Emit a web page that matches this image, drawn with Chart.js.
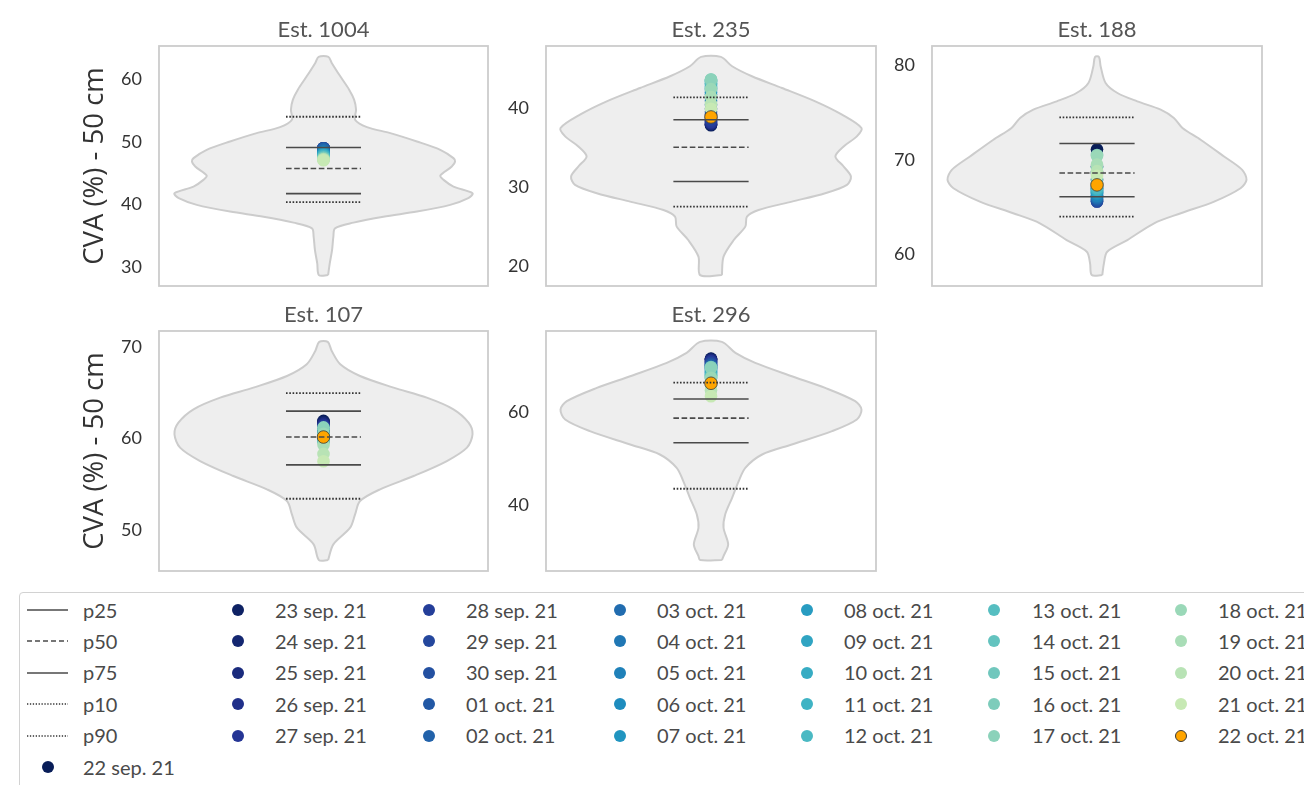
<!DOCTYPE html>
<html><head><meta charset="utf-8">
<script src="https://cdn.jsdelivr.net/npm/chart.js@4.4.0/dist/chart.umd.min.js"></script>
<style>
html,body{margin:0;padding:0;background:#fff;width:1304px;height:785px;overflow:hidden;position:relative;font-family:Lato, sans-serif;}
canvas{position:absolute;}
#legendBox{position:absolute;left:19px;top:592px;width:1320px;height:240px;border:1.3px solid #d2d2d2;border-radius:4px;box-sizing:border-box;}
.lt{position:absolute;font-size:20px;color:#4a4a4a;line-height:24px;height:24px;white-space:nowrap;}
.ld{position:absolute;border-radius:50%;box-sizing:border-box;}
.ls{position:absolute;}
</style></head><body>
<div id="legendBox"></div>
<script>
// ---------------- data ----------------
const STATIONS = ['Est. 1004', 'Est. 235', 'Est. 188', 'Est. 107', 'Est. 296'];
const DATES = ['22 sep. 21','23 sep. 21','24 sep. 21','25 sep. 21','26 sep. 21','27 sep. 21','28 sep. 21','29 sep. 21','30 sep. 21',
  '01 oct. 21','02 oct. 21','03 oct. 21','04 oct. 21','05 oct. 21','06 oct. 21','07 oct. 21','08 oct. 21','09 oct. 21','10 oct. 21',
  '11 oct. 21','12 oct. 21','13 oct. 21','14 oct. 21','15 oct. 21','16 oct. 21','17 oct. 21','18 oct. 21','19 oct. 21','20 oct. 21',
  '21 oct. 21','22 oct. 21'];
const PERCENTILE_LABELS = ['p25', 'p50', 'p75', 'p10', 'p90'];
const Y_TITLE = 'CVA (%) - 50 cm';

// violin outline: value (bottom -> top) and half width
const VIOLIN_Y_1004 = [28.70,30.57,32.71,34.85,36.19,37.10,38.06,38.87,39.94,41.01,41.81,42.88,43.95,44.64,46.09,46.89,47.43,48.76,50.10,51.44,52.40,53.58,55.18,56.79,58.39,60.53,62.68,63.64];
const VIOLIN_W_1004 = [0.014,0.019,0.026,0.030,0.035,0.091,0.182,0.284,0.385,0.440,0.453,0.395,0.365,0.355,0.390,0.400,0.395,0.355,0.284,0.203,0.132,0.096,0.099,0.093,0.078,0.051,0.025,0.015];
const VIOLIN_Y_235 = [18.85,21.19,23.31,25.01,26.28,27.13,28.19,29.26,30.32,31.38,32.65,33.93,35.20,36.48,37.54,39.24,40.93,42.63,44.12,45.39,46.58];
const VIOLIN_W_235 = [0.033,0.038,0.069,0.104,0.109,0.144,0.245,0.346,0.412,0.424,0.402,0.377,0.402,0.442,0.456,0.397,0.316,0.215,0.124,0.064,0.030];
const VIOLIN_Y_188 = [57.83,59.07,60.30,61.53,63.30,64.36,65.59,67.00,67.88,68.94,70.35,72.12,73.35,74.41,75.29,76.17,77.05,78.11,79.88,80.86];
const VIOLIN_W_188 = [0.016,0.021,0.031,0.092,0.173,0.254,0.355,0.435,0.453,0.440,0.385,0.314,0.259,0.233,0.193,0.122,0.062,0.026,0.011,0.006];
const VIOLIN_Y_107 = [46.70,48.42,50.24,51.69,53.15,54.43,55.88,57.52,58.98,60.44,61.71,63.17,64.44,65.54,66.81,68.09,69.54,70.53];
const VIOLIN_W_107 = [0.014,0.030,0.081,0.096,0.111,0.172,0.274,0.375,0.436,0.453,0.441,0.395,0.314,0.213,0.111,0.051,0.025,0.013];
const VIOLIN_Y_296 = [28.24,29.10,31.61,35.20,38.06,41.65,45.23,48.10,50.97,53.12,55.99,58.49,60.65,62.44,65.30,67.81,70.68,72.83,75.20];
const VIOLIN_W_296 = [0.033,0.038,0.052,0.038,0.043,0.064,0.084,0.104,0.155,0.245,0.367,0.442,0.456,0.437,0.346,0.245,0.134,0.074,0.033];

// percentiles per station (1004, 235, 188, 107, 296)
const P10 = [40.40, 27.55, 64.00, 53.40, 43.60];
const P25 = [41.75, 30.75, 66.10, 57.10, 53.50];
const P50 = [45.76, 35.10, 68.60, 60.14, 58.80];
const P75 = [49.13, 38.60, 71.72, 62.97, 62.90];
const P90 = [54.06, 41.44, 74.48, 64.94, 66.45];

// daily values 22 sep -> 22 oct
const DAILY_1004 = [48.9,48.9,49.0,49.0,49.0,49.0,49.0,49.0,49.0,49.0,48.9,48.7,48.5,48.4,48.3,48.2,48.1,48.0,47.9,47.8,47.7,47.6,47.5,47.5,47.4,47.3,47.3,47.2,47.2,47.1,null];
const DAILY_235 = [37.9,38.0,38.0,38.1,38.2,38.3,38.5,38.8,39.2,39.6,40.0,40.5,41.0,41.4,41.8,42.1,42.4,42.6,42.8,43.0,43.2,43.4,43.5,43.6,43.7,43.7,42.5,41.5,40.6,40.0,38.95];
const DAILY_188 = [71.1,69.3,68.6,67.9,67.0,66.2,65.6,65.6,65.7,65.8,65.9,66.0,66.1,66.2,66.4,66.5,66.6,66.7,66.8,66.9,67.0,67.2,67.5,68.0,69.2,70.5,70.4,69.5,68.8,68.3,67.35];
const DAILY_107 = [61.9,61.8,61.7,61.6,61.5,61.4,61.3,61.2,61.1,61.0,60.9,60.8,60.7,60.6,60.5,60.4,60.3,60.2,60.1,60.0,59.9,59.8,59.7,59.6,61.0,61.2,60.5,59.3,58.3,57.5,60.14];
const DAILY_296 = [71.6,71.5,71.4,71.3,71.1,71.0,70.8,70.6,70.4,70.2,70.0,69.8,69.6,69.4,69.2,69.0,68.8,68.6,68.4,68.2,68.0,67.8,67.6,67.4,69.8,69.6,67.5,66.0,64.8,63.5,66.3];

const Y_TICKS_1004 = [30, 40, 50, 60];
const Y_TICKS_235 = [20, 30, 40];
const Y_TICKS_188 = [60, 70, 80];
const Y_TICKS_107 = [50, 60, 70];
const Y_TICKS_296 = [40, 60];

const VIOLIN_Y = [VIOLIN_Y_1004, VIOLIN_Y_235, VIOLIN_Y_188, VIOLIN_Y_107, VIOLIN_Y_296];
const VIOLIN_W = [VIOLIN_W_1004, VIOLIN_W_235, VIOLIN_W_188, VIOLIN_W_107, VIOLIN_W_296];
const DAILY = [DAILY_1004, DAILY_235, DAILY_188, DAILY_107, DAILY_296];
const Y_TICKS = [Y_TICKS_1004, Y_TICKS_235, Y_TICKS_188, Y_TICKS_107, Y_TICKS_296];

// ---------------- style / layout ----------------
const PANELS = [
  {l:159, t:46, r:488, b:286}, {l:546, t:46, r:876, b:286}, {l:932, t:46, r:1262, b:286},
  {l:159, t:331, r:488, b:571}, {l:546, t:331, r:876, b:571}
];
const AXW = 90, TH = 36, PAD = 3;
const LINE_HALF = 0.114;
const LINE_COLOR = '#4a4a4a';
const DOT_COLOR = '#333333';
const DASH = {p25: [], p50: [5.6, 2.6], p75: [], p10: [1.6, 1.7], p90: [1.6, 1.7]};
const CMAP_STOPS = ['#081d58','#253494','#225ea8','#1d91c0','#41b6c4','#7fcdbb','#c7e9b4'];
function hex(c){return [parseInt(c.slice(1,3),16),parseInt(c.slice(3,5),16),parseInt(c.slice(5,7),16)];}
function cmap(s){ // s in [0,1]
  const n = CMAP_STOPS.length - 1, f = s * n, i = Math.min(Math.floor(f), n - 1), u = f - i;
  const a = hex(CMAP_STOPS[i]), b = hex(CMAP_STOPS[i+1]);
  return 'rgb(' + a.map((v,k)=>Math.round(v + (b[k]-v)*u)).join(',') + ')';
}
const N_GRAD = DATES.length - 1;
const DATE_COLORS = DATES.map((d,k) => k < N_GRAD ? cmap(k/(N_GRAD-1)) : '#ffa500');
const DATE_EDGE = DATES.map((d,k) => k < N_GRAD ? 'rgba(0,0,0,0)' : '#3a3a3a');
const DATE_EDGE_W = DATES.map((d,k) => k < N_GRAD ? 0 : 0.8);

Chart.defaults.font.family = 'Lato';
Chart.defaults.devicePixelRatio = 1;

const frame = {
  id: 'frame',
  beforeDatasetsDraw(chart) {
    const {ctx, chartArea: a} = chart;
    ctx.save();
    ctx.strokeStyle = '#cccccc';
    ctx.lineWidth = 1.8;
    ctx.strokeRect(a.left, a.top, a.right - a.left, a.bottom - a.top);
    ctx.restore();
  }
};

function makePanel(i) {
  const p = PANELS[i];
  const w = AXW + (p.r - p.l) + PAD, h = TH + (p.b - p.t) + PAD;
  const cv = document.createElement('canvas');
  cv.width = w; cv.height = h;
  cv.style.width = w + 'px'; cv.style.height = h + 'px';
  cv.style.left = (p.l - AXW) + 'px'; cv.style.top = (p.t - TH) + 'px';
  document.body.appendChild(cv);

  const vy = VIOLIN_Y[i], vw = VIOLIN_W[i];
  const outline = [];
  for (let k = 0; k < vy.length; k++) outline.push({x: vw[k], y: vy[k]});
  for (let k = vy.length - 1; k >= 0; k--) outline.push({x: -vw[k], y: vy[k]});
  outline.push({x: vw[0], y: vy[0]});
  const lo = Math.min(...vy), hi = Math.max(...vy), m = (hi - lo) * 0.05;

  const pct = {p25: P25[i], p50: P50[i], p75: P75[i], p10: P10[i], p90: P90[i]};
  const lineSets = PERCENTILE_LABELS.map(lab => {
    const dotted = lab === 'p10' || lab === 'p90';
    return {
      label: lab,
      data: [{x: -LINE_HALF, y: pct[lab]}, {x: LINE_HALF, y: pct[lab]}],
      showLine: true, borderColor: dotted ? DOT_COLOR : LINE_COLOR, borderWidth: dotted ? 1.8 : 1.6,
      borderDash: DASH[lab], pointRadius: 0, fill: false, order: 1
    };
  });

  const pts = [], bg = [], bc = [], bw = [];
  DAILY[i].forEach((v, k) => {
    if (v === null) return;
    pts.push({x: 0, y: v}); bg.push(DATE_COLORS[k]); bc.push(DATE_EDGE[k]); bw.push(DATE_EDGE_W[k]);
  });

  new Chart(cv.getContext('2d'), {
    type: 'scatter',
    data: {
      datasets: [
        {label: 'violin', data: outline, showLine: true, borderColor: '#cccccc', borderWidth: 2,
         backgroundColor: '#eeeeee', fill: 'shape', tension: 0.3, pointRadius: 0, order: 3},
        {label: 'days', data: pts, showLine: false, pointRadius: 6.3, pointBackgroundColor: bg,
         pointBorderColor: bc, pointBorderWidth: bw, order: 2},
        ...lineSets
      ]
    },
    options: {
      responsive: false, animation: false, devicePixelRatio: 1,
      layout: {autoPadding: false, padding: {left: 0, top: 0, right: PAD, bottom: PAD}},
      events: [],
      plugins: {
        legend: {display: false}, tooltip: {enabled: false},
        title: {display: true, text: STATIONS[i], color: '#555555', fullSize: false,
                font: {size: 22, weight: 'normal'}, padding: {top: 6.5, bottom: 3.1}}
      },
      scales: {
        x: {type: 'linear', min: -0.5, max: 0.5, display: false},
        y: {
          type: 'linear', min: lo - m, max: hi + m,
          afterBuildTicks: s => { s.ticks = Y_TICKS[i].map(v => ({value: v})); },
          afterFit: s => { s.width = AXW; s.paddingTop = 0; s.paddingBottom = 0; },
          grid: {display: false, drawTicks: false}, border: {display: false},
          ticks: {padding: 17, color: '#333333', font: {size: 18}},
          title: {display: i === 0 || i === 3, text: Y_TITLE, color: '#333333',
                  font: {size: 27.5, family: 'Open Sans'}, padding: {top: 10, bottom: 0}}
        }
      }
    },
    plugins: [frame]
  });
}

function makeLegend() {
  const COLS = [{dot: 48, text: 83}, {dot: 238, text: 275}, {dot: 429, text: 466}, {dot: 620, text: 657},
                {dot: 807, text: 844}, {dot: 994, text: 1032}, {dot: 1181, text: 1218}];
  const ROW0 = 610, ROWH = 31.4;
  const items = PERCENTILE_LABELS.map(l => ({kind: 'line', label: l}))
    .concat(DATES.map((d, k) => ({kind: 'dot', label: d, k})));
  items.forEach((it, n) => {
    let col, row;
    if (n < 6) { col = 0; row = n; } else { col = 1 + Math.floor((n - 6) / 5); row = (n - 6) % 5; }
    const cy = ROW0 + row * ROWH;
    const c = COLS[col];
    const t = document.createElement('div');
    t.className = 'lt'; t.textContent = it.label;
    t.style.left = c.text + 'px'; t.style.top = (cy - 12.5) + 'px';
    document.body.appendChild(t);
    if (it.kind === 'line') {
      const svg = document.createElementNS('http://www.w3.org/2000/svg', 'svg');
      svg.setAttribute('width', 42); svg.setAttribute('height', 6);
      svg.setAttribute('class', 'ls');
      svg.style.left = '27px'; svg.style.top = (cy - 3) + 'px';
      const ln = document.createElementNS('http://www.w3.org/2000/svg', 'line');
      ln.setAttribute('x1', 0); ln.setAttribute('x2', 41); ln.setAttribute('y1', 3); ln.setAttribute('y2', 3);
      const dotted = it.label === 'p10' || it.label === 'p90';
      ln.setAttribute('stroke', dotted ? DOT_COLOR : LINE_COLOR); ln.setAttribute('stroke-width', 1.4);
      if (DASH[it.label].length) ln.setAttribute('stroke-dasharray', it.label === 'p50' ? '5 3' : '1.3 1.6');
      svg.appendChild(ln);
      document.body.appendChild(svg);
    } else {
      const d = document.createElement('div');
      d.className = 'ld';
      const size = 12;
      d.style.width = size + 'px'; d.style.height = size + 'px';
      d.style.left = (c.dot - size / 2) + 'px'; d.style.top = (cy - size / 2) + 'px';
      d.style.background = DATE_COLORS[it.k];
      if (DATE_EDGE_W[it.k] > 0) d.style.border = '0.8px solid ' + DATE_EDGE[it.k];
      document.body.appendChild(d);
    }
  });
}

function build() {
  for (let i = 0; i < PANELS.length; i++) makePanel(i);
  makeLegend();
}
if (document.fonts && document.fonts.load) {
  Promise.all([document.fonts.load('18px Lato'), document.fonts.load('27px "Open Sans"')]).then(build, build);
} else build();
</script>
</body></html>
